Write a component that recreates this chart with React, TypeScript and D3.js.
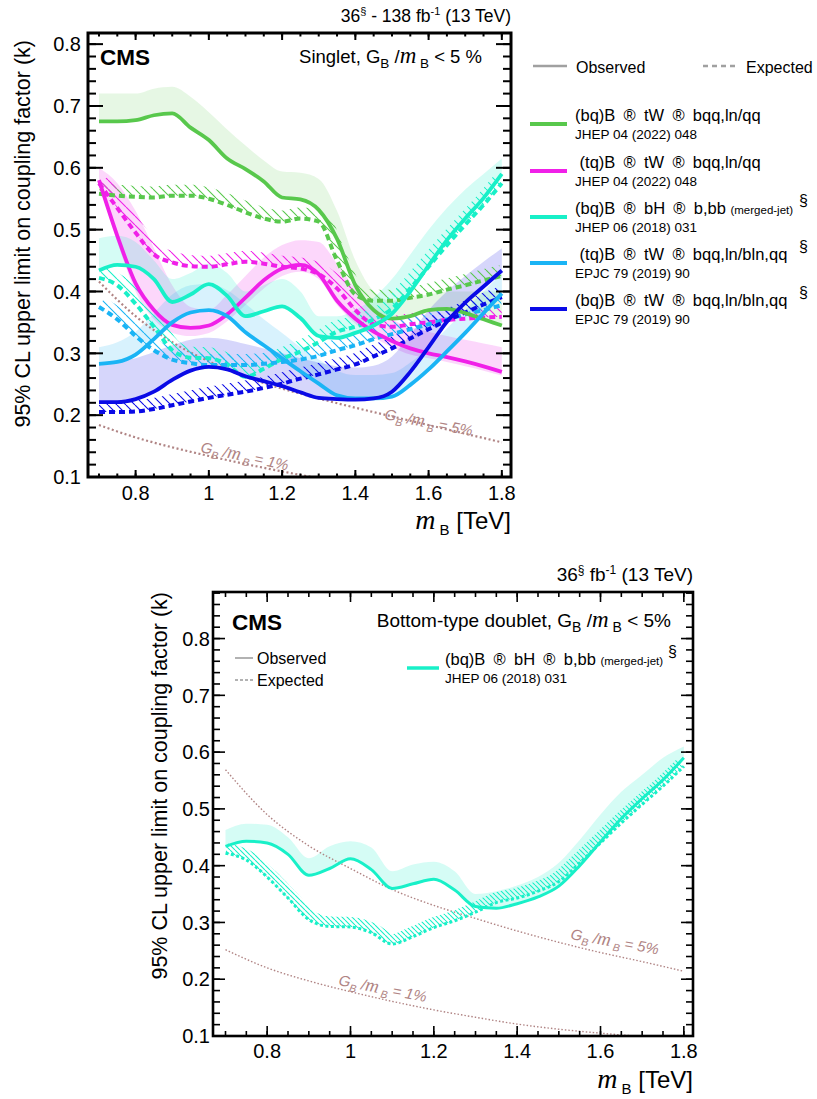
import React from 'react';
import * as d3 from 'd3';

// ---------------- DATA ----------------
const MASS = [0.7, 0.75, 0.8, 0.85, 0.9, 0.95, 1.0, 1.05, 1.1, 1.15, 1.2, 1.25, 1.3, 1.35, 1.4, 1.45, 1.5, 1.55, 1.6, 1.65, 1.7, 1.75, 1.8];

// (bq)B -> tW, JHEP 04 (2022) 048
const BQTW_J_OBS = [0.675, 0.675, 0.677, 0.685, 0.688, 0.665, 0.645, 0.615, 0.598, 0.578, 0.552, 0.549, 0.532, 0.485, 0.41, 0.37, 0.356, 0.36, 0.37, 0.372, 0.365, 0.355, 0.345];
const BQTW_J_EXP = [0.558, 0.555, 0.553, 0.552, 0.555, 0.555, 0.55, 0.54, 0.528, 0.518, 0.513, 0.518, 0.513, 0.45, 0.395, 0.385, 0.385, 0.39, 0.395, 0.403, 0.41, 0.418, 0.425];
const BQTW_J_BAND_HI = [0.72, 0.72, 0.72, 0.728, 0.731, 0.715, 0.69, 0.662, 0.636, 0.612, 0.594, 0.592, 0.582, 0.53, 0.45, 0.4, 0.385, 0.39, 0.395, 0.4, 0.4, 0.4, 0.4];

// (tq)B -> tW, JHEP 04 (2022) 048
const TQTW_J_OBS = [0.58, 0.49, 0.413, 0.37, 0.346, 0.341, 0.345, 0.363, 0.39, 0.418, 0.437, 0.443, 0.428, 0.385, 0.356, 0.335, 0.32, 0.308, 0.3, 0.294, 0.287, 0.279, 0.27];
const TQTW_J_EXP = [0.575, 0.535, 0.495, 0.46, 0.447, 0.441, 0.44, 0.444, 0.448, 0.445, 0.44, 0.437, 0.428, 0.405, 0.37, 0.347, 0.343, 0.347, 0.35, 0.354, 0.356, 0.358, 0.359];
const TQTW_J_BAND_LO = [0.575, 0.48, 0.4, 0.355, 0.333, 0.328, 0.333, 0.352, 0.378, 0.405, 0.425, 0.432, 0.42, 0.378, 0.348, 0.326, 0.31, 0.298, 0.292, 0.286, 0.279, 0.272, 0.264];
const TQTW_J_BAND_HI = [0.6, 0.575, 0.53, 0.47, 0.41, 0.375, 0.37, 0.395, 0.425, 0.455, 0.475, 0.483, 0.48, 0.445, 0.405, 0.375, 0.355, 0.342, 0.335, 0.328, 0.322, 0.316, 0.31];

// (bq)B -> bH, JHEP 06 (2018) 031
const BQBH_OBS = [0.434, 0.443, 0.44, 0.42, 0.383, 0.395, 0.412, 0.393, 0.36, 0.368, 0.376, 0.357, 0.328, 0.325, 0.333, 0.345, 0.364, 0.4, 0.442, 0.483, 0.518, 0.551, 0.59];
const BQBH_EXP = [0.422, 0.41, 0.38, 0.343, 0.305, 0.293, 0.292, 0.282, 0.262, 0.275, 0.291, 0.303, 0.318, 0.335, 0.343, 0.355, 0.372, 0.405, 0.44, 0.475, 0.508, 0.54, 0.575];
const BQBH_SINGLET_BAND_HI = [0.486, 0.49, 0.48, 0.45, 0.42, 0.43, 0.445, 0.43, 0.4, 0.41, 0.42, 0.4, 0.36, 0.36, 0.37, 0.39, 0.42, 0.46, 0.5, 0.535, 0.565, 0.59, 0.615];
const BQBH_DOUBLET_BAND_HI = [0.463, 0.474, 0.472, 0.45, 0.413, 0.434, 0.443, 0.432, 0.39, 0.402, 0.407, 0.39, 0.35, 0.355, 0.365, 0.38, 0.405, 0.445, 0.49, 0.53, 0.56, 0.59, 0.61];

// (tq)B -> tW, EPJC 79 (2019) 90
const TQTW_E_OBS = [0.283, 0.286, 0.298, 0.323, 0.35, 0.366, 0.37, 0.36, 0.334, 0.313, 0.292, 0.271, 0.251, 0.232, 0.227, 0.227, 0.23, 0.249, 0.274, 0.303, 0.333, 0.365, 0.397];
const TQTW_E_EXP = [0.375, 0.355, 0.328, 0.305, 0.29, 0.284, 0.281, 0.281, 0.281, 0.283, 0.286, 0.29, 0.296, 0.305, 0.313, 0.323, 0.331, 0.339, 0.347, 0.355, 0.363, 0.37, 0.378];
const TQTW_E_BAND_HI = [0.31, 0.318, 0.335, 0.365, 0.395, 0.41, 0.412, 0.402, 0.38, 0.355, 0.333, 0.31, 0.29, 0.272, 0.265, 0.265, 0.268, 0.285, 0.31, 0.34, 0.37, 0.4, 0.43];

// (bq)B -> tW, EPJC 79 (2019) 90
const BQTW_E_OBS = [0.221, 0.221, 0.226, 0.238, 0.257, 0.272, 0.278, 0.274, 0.263, 0.255, 0.247, 0.237, 0.228, 0.226, 0.225, 0.227, 0.238, 0.27, 0.31, 0.351, 0.382, 0.408, 0.434];
const BQTW_E_EXP = [0.205, 0.205, 0.206, 0.21, 0.216, 0.222, 0.228, 0.233, 0.238, 0.244, 0.251, 0.259, 0.266, 0.274, 0.282, 0.295, 0.308, 0.324, 0.339, 0.353, 0.366, 0.379, 0.391];
const BQTW_E_BAND_HI = [0.285, 0.287, 0.292, 0.302, 0.313, 0.322, 0.325, 0.322, 0.315, 0.308, 0.3, 0.292, 0.285, 0.279, 0.277, 0.28, 0.295, 0.33, 0.37, 0.4, 0.425, 0.448, 0.47];

// width contours
const TH_MASS = [0.7, 0.8, 0.9, 1.0, 1.1, 1.2, 1.3, 1.4, 1.5, 1.6, 1.7, 1.8];
const SINGLET_W5 = [0.416, 0.36, 0.318, 0.287, 0.262, 0.243, 0.227, 0.212, 0.198, 0.184, 0.17, 0.156];
const SINGLET_W1 = [0.184, 0.164, 0.148, 0.134, 0.121, 0.109, 0.098, 0.089, 0.081, 0.074, 0.068, 0.063];
const DOUBLET_W5 = [0.569, 0.49, 0.435, 0.395, 0.358, 0.33, 0.307, 0.285, 0.265, 0.247, 0.231, 0.214];
const DOUBLET_W1 = [0.252, 0.22, 0.197, 0.178, 0.161, 0.146, 0.133, 0.121, 0.112, 0.105, 0.099, 0.094];

const X_TICKS = [0.8, 1.0, 1.2, 1.4, 1.6, 1.8];
const Y_TICKS = [0.1, 0.2, 0.3, 0.4, 0.5, 0.6, 0.7, 0.8];

// ---------------- STYLE ----------------
const FONT = "'Liberation Sans', Arial, Helvetica, sans-serif";
const SERIF = "'Liberation Serif', 'Times New Roman', serif";
const C_GREEN = '#58c84c';
const C_MAGENTA = '#f020e8';
const C_TURQ = '#18f0c8';
const C_LBLUE = '#1ab4f5';
const C_DBLUE = '#0a0ae6';
const C_TH = '#b08484';

type Pt = [number, number];

function sampleCurve(pts: Pt[]): Pt[] {
  const out: Pt[] = [];
  let cx = 0, cy = 0;
  const ctx: any = {
    moveTo(x: number, y: number) { out.push([x, y]); cx = x; cy = y; },
    lineTo(x: number, y: number) { out.push([x, y]); cx = x; cy = y; },
    bezierCurveTo(x1: number, y1: number, x2: number, y2: number, x: number, y: number) {
      const N = 14;
      for (let i = 1; i <= N; i++) {
        const t = i / N, u = 1 - t;
        out.push([
          u * u * u * cx + 3 * u * u * t * x1 + 3 * u * t * t * x2 + t * t * t * x,
          u * u * u * cy + 3 * u * u * t * y1 + 3 * u * t * t * y2 + t * t * t * y,
        ]);
      }
      cx = x; cy = y;
    },
    closePath() {},
  };
  d3.line<Pt>().curve(d3.curveMonotoneX).context(ctx)(pts);
  return out;
}

function hatchPath(pts: Pt[], w: number): string {
  const s = sampleCurve(pts);
  const n = s.length;
  const off: Pt[] = s.map((p, i) => {
    const a = s[Math.max(0, i - 2)], b = s[Math.min(n - 1, i + 2)];
    let tx = b[0] - a[0], ty = b[1] - a[1];
    const len = Math.hypot(tx, ty) || 1;
    tx /= len; ty /= len;
    return [p[0] + ty * w, p[1] - tx * w];
  });
  const poly = s.concat(off.slice().reverse());
  return 'M' + poly.map((p) => p[0].toFixed(2) + ',' + p[1].toFixed(2)).join('L') + 'Z';
}

interface Series {
  id: string;
  color: string;
  obs: number[];
  exp: number[];
  lo: number[];
  hi: number[];
  bandOpacity: number;
}

interface PanelCfg {
  id: string;
  L: number; R: number; T: number; B: number;
  xDom: [number, number]; yDom: [number, number];
  majX: number; minX: number; majY: number; minY: number;
  frameW: number; tickW: number;
  obsW: number; expW: number; dash: string;
  hatchW: number; hatchStep: number;
  series: Series[];
  th5: number[]; th1: number[]; thW: number; thDash: string;
  tickFont: number; xLabelY: number; yLabelX: number;
}

function Panel({ c }: { c: PanelCfg }) {
  const x = d3.scaleLinear().domain(c.xDom).range([c.L, c.R]);
  const y = d3.scaleLinear().domain(c.yDom).range([c.B, c.T]);
  const line = d3.line<Pt>().x((d) => x(d[0])).y((d) => y(d[1])).curve(d3.curveMonotoneX);
  const area = d3.area<number>()
    .x((_, i) => x(MASS[i]))
    .curve(d3.curveMonotoneX);
  const xMinor = d3.range(0.65, 1.85, 0.05).filter((v) => x(v) > c.L + 1 && x(v) < c.R - 1);
  const yMinor = d3.range(0.1, 0.9, 0.02).filter((v) => y(v) > c.T + 1 && y(v) < c.B - 1);
  const clip = `clip-${c.id}`;
  const ptsOf = (arr: number[], m = MASS): Pt[] => arr.map((v, i) => [m[i], v] as Pt);
  const fmt = (v: number) => (Math.abs(v - 1) < 1e-9 ? '1' : v.toFixed(1));

  return (
    <g>
      <defs>
        <clipPath id={clip}>
          <rect x={c.L} y={c.T} width={c.R - c.L} height={c.B - c.T} />
        </clipPath>
        {c.series.map((s) => (
          <pattern key={s.id} id={`hatch-${c.id}-${s.id}`} patternUnits="userSpaceOnUse" width={c.hatchStep} height={c.hatchStep}>
            <path
              d={`M0,0L${c.hatchStep},${c.hatchStep}M${-c.hatchStep},0L0,${c.hatchStep}M${c.hatchStep},0L${2 * c.hatchStep},${c.hatchStep}`}
              stroke={s.color}
              strokeWidth={1.1}
            />
          </pattern>
        ))}
      </defs>
      <g clipPath={`url(#${clip})`}>
        {c.series.map((s) => (
          <path
            key={'band' + s.id}
            d={area.y0((_, i) => y(s.lo[i])).y1((_, i) => y(s.hi[i]))(MASS.map((_, i) => i)) || ''}
            fill={s.color}
            fillOpacity={s.bandOpacity}
          />
        ))}
        <path d={line(ptsOf(c.th5, TH_MASS)) || ''} fill="none" stroke={C_TH} strokeWidth={c.thW} strokeDasharray={c.thDash} />
        <path d={line(ptsOf(c.th1, TH_MASS)) || ''} fill="none" stroke={C_TH} strokeWidth={c.thW} strokeDasharray={c.thDash} />
        {c.series.map((s) => (
          <path
            key={'hatch' + s.id}
            d={hatchPath(s.exp.map((v, i) => [x(MASS[i]), y(v)] as Pt), c.hatchW)}
            fill={`url(#hatch-${c.id}-${s.id})`}
          />
        ))}
        {c.series.map((s) => (
          <path key={'exp' + s.id} d={line(ptsOf(s.exp)) || ''} fill="none" stroke={s.color} strokeWidth={c.expW} strokeDasharray={c.dash} />
        ))}
        {c.series.map((s) => (
          <path key={'obs' + s.id} d={line(ptsOf(s.obs)) || ''} fill="none" stroke={s.color} strokeWidth={c.obsW} />
        ))}
      </g>
      {/* ticks */}
      <g stroke="#000" strokeWidth={c.tickW}>
        {X_TICKS.map((v) => (
          <g key={'xt' + v}>
            <line x1={x(v)} x2={x(v)} y1={c.B} y2={c.B - c.majX} />
            <line x1={x(v)} x2={x(v)} y1={c.T} y2={c.T + c.majX} />
          </g>
        ))}
        {xMinor.map((v) => (
          <g key={'xm' + v}>
            <line x1={x(v)} x2={x(v)} y1={c.B} y2={c.B - c.minX} />
            <line x1={x(v)} x2={x(v)} y1={c.T} y2={c.T + c.minX} />
          </g>
        ))}
        {Y_TICKS.map((v) => (
          <g key={'yt' + v}>
            <line x1={c.L} x2={c.L + c.majY} y1={y(v)} y2={y(v)} />
            <line x1={c.R} x2={c.R - c.majY} y1={y(v)} y2={y(v)} />
          </g>
        ))}
        {yMinor.map((v) => (
          <g key={'ym' + v}>
            <line x1={c.L} x2={c.L + c.minY} y1={y(v)} y2={y(v)} />
            <line x1={c.R} x2={c.R - c.minY} y1={y(v)} y2={y(v)} />
          </g>
        ))}
      </g>
      <rect x={c.L} y={c.T} width={c.R - c.L} height={c.B - c.T} fill="none" stroke="#000" strokeWidth={c.frameW} />
      <g fontFamily={FONT} fontSize={c.tickFont} fill="#000">
        {X_TICKS.map((v) => (
          <text key={'xl' + v} x={x(v)} y={c.xLabelY} textAnchor="middle">{fmt(v)}</text>
        ))}
        {Y_TICKS.map((v) => (
          <text key={'yl' + v} x={c.yLabelX} y={y(v) + c.tickFont * 0.36} textAnchor="end">{fmt(v)}</text>
        ))}
      </g>
    </g>
  );
}

const TOP: PanelCfg = {
  id: 'top', L: 88, R: 511, T: 33, B: 477,
  xDom: [0.67, 1.825], yDom: [0.1, 0.818],
  majX: 7, minX: 3.5, majY: 15, minY: 8, frameW: 3, tickW: 2,
  obsW: 3.8, expW: 4, dash: '6,4', hatchW: 11, hatchStep: 9,
  series: [
    { id: 'g', color: C_GREEN, obs: BQTW_J_OBS, exp: BQTW_J_EXP, lo: BQTW_J_OBS, hi: BQTW_J_BAND_HI, bandOpacity: 0.15 },
    { id: 'm', color: C_MAGENTA, obs: TQTW_J_OBS, exp: TQTW_J_EXP, lo: TQTW_J_BAND_LO, hi: TQTW_J_BAND_HI, bandOpacity: 0.18 },
    { id: 't', color: C_TURQ, obs: BQBH_OBS, exp: BQBH_EXP, lo: BQBH_OBS, hi: BQBH_SINGLET_BAND_HI, bandOpacity: 0.18 },
    { id: 'l', color: C_LBLUE, obs: TQTW_E_OBS, exp: TQTW_E_EXP, lo: TQTW_E_OBS, hi: TQTW_E_BAND_HI, bandOpacity: 0.17 },
    { id: 'd', color: C_DBLUE, obs: BQTW_E_OBS, exp: BQTW_E_EXP, lo: BQTW_E_OBS, hi: BQTW_E_BAND_HI, bandOpacity: 0.17 },
  ],
  th5: SINGLET_W5, th1: SINGLET_W1, thW: 2.2, thDash: '2,2.5',
  tickFont: 20, xLabelY: 500, yLabelX: 81,
};

const BOTTOM: PanelCfg = {
  id: 'bot', L: 213, R: 693, T: 592, B: 1036,
  xDom: [0.67, 1.822], yDom: [0.1, 0.882],
  majX: 10, minX: 5, majY: 12, minY: 7, frameW: 2.6, tickW: 1.6,
  obsW: 3, expW: 3, dash: '3,2.5', hatchW: 10, hatchStep: 5,
  series: [
    { id: 't', color: C_TURQ, obs: BQBH_OBS, exp: BQBH_EXP, lo: BQBH_OBS, hi: BQBH_DOUBLET_BAND_HI, bandOpacity: 0.18 },
  ],
  th5: DOUBLET_W5, th1: DOUBLET_W1, thW: 1.4, thDash: '1.5,2',
  tickFont: 20, xLabelY: 1058, yLabelX: 210,
};

function GammaOverM({ x, y, rot, val, size }: { x: number; y: number; rot: number; val: string; size: number }) {
  return (
    <text transform={`translate(${x},${y}) rotate(${rot})`} fontFamily={FONT} fontSize={size} fill={C_TH} fontStyle="italic">
      G<tspan fontSize={size * 0.7} dy={4}>B</tspan>
      <tspan dy={-4}> /</tspan>
      <tspan fontFamily={SERIF} fontSize={size * 1.25}>m</tspan>
      <tspan fontSize={size * 0.7} dy={4}> B</tspan>
      <tspan dy={-4}> = {val}</tspan>
    </text>
  );
}

function LegendEntry({ x, y, color, text, small, sub, sect, sectX, lineW, lineLen, gap }: any) {
  return (
    <g>
      <line x1={x} x2={x + lineLen} y1={y} y2={y} stroke={color} strokeWidth={lineW} />
      <text x={x + gap} y={y - 3} fontFamily={FONT} fontSize={16.5} fill="#000" style={{ whiteSpace: 'pre' }}>
        {text}
        {small ? <tspan fontSize={11.5}>{small}</tspan> : null}
      </text>
      <text x={x + gap} y={y + 15} fontFamily={FONT} fontSize={13.5} fill="#000">{sub}</text>
      {sect ? (
        <text x={sectX} y={y - 11} fontFamily={FONT} fontSize={16} fill="#000">§</text>
      ) : null}
    </g>
  );
}

const AR = '\u2002®\u2002';

export default function App() {
  return (
    <svg width={817} height={1099} style={{ position: 'absolute', left: 0, top: 0, background: '#fff' }} xmlns="http://www.w3.org/2000/svg">
      <rect x={0} y={0} width={817} height={1099} fill="#fff" />
      {/* ---------- TOP PANEL ---------- */}
      <Panel c={TOP} />
      <text x={511} y={22} textAnchor="end" fontFamily={FONT} fontSize={17.5}>
        36<tspan fontSize={11} dy={-7}>§</tspan>
        <tspan dy={7}> - 138 fb</tspan>
        <tspan fontSize={11} dy={-7}>-1</tspan>
        <tspan dy={7}> (13 TeV)</tspan>
      </text>
      <text x={100} y={65} fontFamily={FONT} fontSize={22.5} fontWeight="bold">CMS</text>
      <text x={482} y={63} textAnchor="end" fontFamily={FONT} fontSize={18.5}>
        Singlet, G<tspan fontSize={13.5} dy={5}>B</tspan>
        <tspan dy={-5}> /</tspan>
        <tspan fontFamily={SERIF} fontStyle="italic" fontSize={23}>m</tspan>
        <tspan fontSize={13.5} dy={5}> B</tspan>
        <tspan dy={-5}> &lt; 5 %</tspan>
      </text>
      <text transform="translate(30,40) rotate(-90)" textAnchor="end" fontFamily={FONT} fontSize={21.5}>
        95% CL upper limit on coupling factor (k)
      </text>
      <text x={511} y={529} textAnchor="end" fontFamily={FONT} fontSize={24}>
        <tspan fontFamily={SERIF} fontStyle="italic" fontSize={28}>m</tspan>
        <tspan fontSize={15} dy={6}> B</tspan>
        <tspan dy={-6}> [TeV]</tspan>
      </text>
      <GammaOverM x={384} y={419} rot={11} val="5%" size={15} />
      <GammaOverM x={200} y={452} rot={12} val="1%" size={15} />

      {/* legend top */}
      <line x1={533} x2={567} y1={66} y2={66} stroke="#a0a0a0" strokeWidth={2.5} />
      <text x={576} y={73} fontFamily={FONT} fontSize={16}>Observed</text>
      <line x1={703} x2={737} y1={66} y2={66} stroke="#a0a0a0" strokeWidth={2.5} strokeDasharray="5,4" />
      <text x={746} y={73} fontFamily={FONT} fontSize={16}>Expected</text>
      <LegendEntry x={530} y={124} gap={45} lineLen={37} color={C_GREEN} lineW={4} text={`(bq)B${AR}tW${AR}bqq,ln/qq`} sub="JHEP 04 (2022) 048" />
      <LegendEntry x={530} y={171} gap={45} lineLen={37} color={C_MAGENTA} lineW={4} text={` (tq)B${AR}tW${AR}bqq,ln/qq`} sub="JHEP 04 (2022) 048" />
      <LegendEntry x={530} y={217} gap={45} lineLen={37} color={C_TURQ} lineW={4} text={`(bq)B${AR}bH${AR}b,bb `} small="(merged-jet)" sub="JHEP 06 (2018) 031" sect sectX={799} />
      <LegendEntry x={530} y={263} gap={45} lineLen={37} color={C_LBLUE} lineW={4} text={` (tq)B${AR}tW${AR}bqq,ln/bln,qq`} sub="EPJC 79 (2019) 90" sect sectX={799} />
      <LegendEntry x={530} y={309} gap={45} lineLen={37} color={C_DBLUE} lineW={4} text={`(bq)B${AR}tW${AR}bqq,ln/bln,qq`} sub="EPJC 79 (2019) 90" sect sectX={799} />

      {/* ---------- BOTTOM PANEL ---------- */}
      <Panel c={BOTTOM} />
      <text x={693} y={581} textAnchor="end" fontFamily={FONT} fontSize={19}>
        36<tspan fontSize={12} dy={-7}>§</tspan>
        <tspan dy={7}> fb</tspan>
        <tspan fontSize={12} dy={-7}>-1</tspan>
        <tspan dy={7}> (13 TeV)</tspan>
      </text>
      <text x={232} y={630} fontFamily={FONT} fontSize={22.5} fontWeight="bold">CMS</text>
      <text x={671} y={627} textAnchor="end" fontFamily={FONT} fontSize={19}>
        Bottom-type doublet, G<tspan fontSize={14} dy={5}>B</tspan>
        <tspan dy={-5}> /</tspan>
        <tspan fontFamily={SERIF} fontStyle="italic" fontSize={23}>m</tspan>
        <tspan fontSize={14} dy={5}> B</tspan>
        <tspan dy={-5}> &lt; 5%</tspan>
      </text>
      <text transform="translate(167,592) rotate(-90)" textAnchor="end" fontFamily={FONT} fontSize={21.5}>
        95% CL upper limit on coupling factor (k)
      </text>
      <text x={693} y={1088} textAnchor="end" fontFamily={FONT} fontSize={24}>
        <tspan fontFamily={SERIF} fontStyle="italic" fontSize={28}>m</tspan>
        <tspan fontSize={15} dy={6}> B</tspan>
        <tspan dy={-6}> [TeV]</tspan>
      </text>
      <GammaOverM x={570} y={939} rot={10} val="5%" size={15} />
      <GammaOverM x={338} y={985} rot={11} val="1%" size={15} />

      <line x1={235} x2={253} y1={658} y2={658} stroke="#999" strokeWidth={1.5} />
      <text x={257} y={664} fontFamily={FONT} fontSize={16}>Observed</text>
      <line x1={235} x2={253} y1={680} y2={680} stroke="#999" strokeWidth={1.5} strokeDasharray="3,2" />
      <text x={257} y={686} fontFamily={FONT} fontSize={16}>Expected</text>
      <LegendEntry x={407} y={668} gap={38} lineLen={32} color={C_TURQ} lineW={3.5} text={`(bq)B${AR}bH${AR}b,bb `} small="(merged-jet)" sub="JHEP 06 (2018) 031" sect sectX={668} />
    </svg>
  );
}
